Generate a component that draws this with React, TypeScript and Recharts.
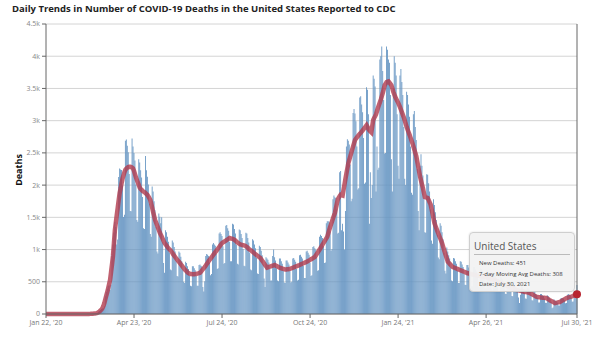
import React from "react";
import {
  ComposedChart,
  Bar,
  Line,
  XAxis,
  YAxis,
  CartesianGrid,
  ReferenceDot,
  ReferenceLine,
} from "recharts";

// Day index 0 = Jan 22, 2020 ... 555 = Jul 30, 2021
const dailyDeaths: number[] = [
  0, 0, 0, 0, 0, 0, 0,
  0, 0, 0, 0, 0, 0, 0,
  0, 0, 0, 0, 0, 0, 0,
  0, 0, 0, 0, 0, 0, 0,
  0, 0, 0, 0, 0, 0, 0,
  0, 0, 0, 1, 0, 0, 1,
  1, 1, 2, 1, 2, 3, 5,
  6, 7, 9, 10, 12, 18, 36,
  48, 63, 77, 86, 88, 120, 276,
  342, 391, 440, 442, 371, 455, 924,
  1080, 1265, 1430, 1349, 1078, 1155, 2124,
  2256, 2243, 2233, 1995, 1505, 1540, 2688,
  2706, 2610, 2508, 2171, 1600, 1596, 2724,
  2600, 2500, 2380, 2010, 1460, 1430, 2400,
  2350, 2230, 2120, 1815, 1330, 1320, 2450,
  2230, 2130, 2010, 1710, 1240, 1200, 1980,
  1900, 1750, 1610, 1350, 970, 940, 1560,
  1510, 1410, 1500, 1110, 790, 640, 1300,
  1270, 1200, 1120, 950, 690, 680, 1140,
  1110, 1040, 970, 820, 590, 580, 970,
  950, 890, 820, 690, 500, 480, 810,
  790, 740, 700, 590, 440, 430, 740,
  740, 710, 680, 590, 440, 440, 760,
  770, 750, 740, 420, 350, 510, 900,
  930, 920, 900, 800, 600, 620, 1080,
  1100, 1080, 1060, 930, 700, 710, 1250,
  1270, 1240, 1210, 1050, 780, 790, 1370,
  1380, 1330, 1290, 1120, 820, 820, 1400,
  1390, 1320, 1250, 1070, 780, 770, 1310,
  1300, 1240, 1180, 1010, 750, 740, 1260,
  1250, 1180, 1110, 950, 690, 680, 1160,
  1140, 1080, 1020, 870, 630, 620, 1060,
  1040, 980, 910, 770, 550, 420, 880,
  860, 840, 800, 700, 520, 520, 900,
  1000, 880, 830, 710, 520, 510, 860,
  860, 820, 780, 670, 490, 480, 830,
  830, 800, 770, 670, 490, 500, 860,
  870, 840, 810, 700, 520, 530, 910,
  920, 890, 860, 750, 560, 560, 970,
  980, 950, 920, 800, 590, 600, 1040,
  1050, 1020, 1000, 880, 670, 680, 1200,
  1230, 1210, 1180, 1050, 790, 800, 1410,
  1440, 1440, 1430, 1280, 980, 1010, 1780,
  1840, 1810, 1800, 1620, 1250, 1260, 2200,
  2220, 1300, 1400, 1280, 1000, 1600, 2600,
  2710, 2690, 2630, 2320, 1750, 1790, 3120,
  3180, 3110, 2990, 2600, 1930, 1950, 3360,
  3380, 3250, 3130, 2730, 2020, 2040, 3520,
  3480, 3100, 1400, 2200, 1800, 2000, 3700,
  3650, 3530, 1900, 2600, 2240, 2270, 3950,
  4000, 4150, 3770, 3320, 2490, 2500, 4150,
  4100, 3950, 3900, 3400, 2400, 1900, 3500,
  4000, 3900, 3700, 3100, 2300, 2100, 3700,
  3800, 3600, 3400, 2900, 2100, 2000, 3450,
  3400, 3250, 3060, 2600, 1880, 1850, 3100,
  3150, 2900, 2700, 2250, 1600, 1300, 2300,
  2480, 2300, 2150, 1790, 1270, 1260, 2170,
  2160, 2030, 1900, 1620, 1140, 1090, 1780,
  1690, 1580, 1460, 1230, 875, 850, 1410,
  1370, 1270, 1160, 950, 670, 630, 1030,
  970, 910, 860, 720, 520, 510, 870,
  860, 820, 780, 670, 480, 480, 820,
  810, 770, 730, 620, 455, 450, 760,
  760, 720, 690, 590, 430, 430, 730,
  730, 690, 660, 570, 420, 410, 710,
  700, 670, 640, 550, 400, 400, 680,
  670, 640, 600, 520, 380, 370, 640,
  630, 600, 560, 480, 350, 340, 580,
  570, 540, 510, 430, 315, 310, 520,
  510, 490, 460, 390, 280, 275, 460,
  460, 430, 410, 350, 255, 170, 300,
  470, 420, 380, 330, 240, 235, 400,
  400, 380, 350, 300, 215, 210, 350,
  340, 310, 290, 250, 180, 180, 310,
  310, 290, 280, 240, 175, 170, 290,
  280, 250, 230, 190, 90, 100, 230,
  210, 200, 195, 170, 130, 130, 240,
  250, 245, 240, 215, 165, 170, 300,
  310, 300, 290, 255, 190, 195, 350,
  360, 350, 451,
];

const avgDeaths: number[] = [
  0, 0, 0, 0, 0, 0, 0,
  0, 0, 0, 0, 0, 0, 0,
  0, 0, 0, 0, 0, 0, 0,
  0, 0, 0, 0, 0, 0, 0,
  0, 0, 0, 0, 0, 0, 0,
  0, 0, 0, 0, 0, 0, 0,
  1, 1, 1, 1, 2, 3, 4,
  5, 6, 8, 10, 14, 20, 30,
  40, 55, 70, 90, 125, 170, 230,
  285, 340, 400, 465, 530, 650, 770,
  900, 1100, 1300, 1420, 1540, 1650, 1770,
  1880, 1950, 2030, 2100, 2150, 2200, 2240,
  2255, 2270, 2280, 2285, 2285, 2280, 2270,
  2260, 2220, 2170, 2120, 2080, 2040, 2000,
  1960, 1940, 1925, 1910, 1900, 1890, 1875,
  1860, 1850, 1825, 1800, 1770, 1710, 1650,
  1580, 1520, 1460, 1420, 1380, 1340, 1300,
  1260, 1230, 1200, 1165, 1130, 1100, 1080,
  1060, 1040, 1020, 1005, 990, 970, 950,
  925, 905, 885, 865, 845, 825, 810,
  790, 770, 750, 730, 710, 690, 675,
  660, 645, 635, 625, 622, 620, 618,
  617, 618, 620, 622, 626, 630, 635,
  640, 655, 675, 695, 712, 730, 752,
  775, 797, 820, 840, 860, 880, 900,
  920, 940, 960, 980, 1000, 1020, 1040,
  1060, 1080, 1100, 1110, 1120, 1130, 1140,
  1150, 1160, 1170, 1180, 1175, 1170, 1165,
  1160, 1150, 1140, 1125, 1110, 1100, 1090,
  1080, 1075, 1070, 1068, 1065, 1060, 1050,
  1040, 1025, 1010, 1000, 990, 978, 965,
  952, 940, 928, 916, 904, 892, 880,
  870, 850, 828, 806, 784, 762, 740,
  720, 725, 730, 735, 740, 745, 750,
  755, 760, 752, 744, 736, 728, 720,
  715, 710, 705, 700, 695, 690, 692,
  694, 696, 698, 700, 706, 712, 718,
  724, 730, 736, 742, 748, 754, 760,
  767, 774, 781, 788, 795, 800, 808,
  816, 824, 832, 840, 849, 858, 867,
  876, 885, 908, 931, 954, 977, 1000,
  1025, 1050, 1075, 1100, 1125, 1150, 1175,
  1200, 1250, 1300, 1350, 1395, 1440, 1485,
  1530, 1570, 1640, 1710, 1780, 1805, 1830,
  1850, 1845, 1840, 1925, 2010, 2100, 2180,
  2260, 2340, 2392, 2444, 2496, 2550, 2600,
  2650, 2700, 2720, 2740, 2760, 2780, 2797,
  2813, 2830, 2850, 2870, 2890, 2910, 2930,
  2903, 2877, 2850, 2835, 2820, 2915, 3010,
  3040, 3070, 3100, 3150, 3200, 3243, 3287,
  3330, 3380, 3430, 3490, 3550, 3575, 3600,
  3605, 3610, 3590, 3570, 3550, 3500, 3450,
  3410, 3370, 3340, 3310, 3280, 3245, 3210,
  3170, 3130, 3090, 3050, 3000, 2950, 2900,
  2860, 2820, 2780, 2737, 2693, 2650, 2600,
  2550, 2500, 2450, 2370, 2290, 2210, 2130,
  2070, 2010, 1950, 1880, 1815, 1810, 1805,
  1800, 1767, 1733, 1700, 1630, 1560, 1485,
  1410, 1370, 1330, 1290, 1250, 1212, 1175,
  1138, 1100, 1050, 1000, 950, 903, 857,
  810, 794, 778, 762, 746, 730, 724,
  718, 712, 706, 700, 693, 686, 680,
  674, 668, 662, 656, 650, 643, 636,
  632, 628, 625, 621, 617, 614, 610,
  607, 603, 600, 597, 594, 591, 588,
  585, 582, 579, 576, 573, 570, 565,
  560, 555, 550, 545, 540, 535, 530,
  525, 520, 513, 506, 499, 492, 485,
  478, 471, 464, 457, 450, 443, 436,
  429, 422, 415, 408, 401, 394, 387,
  380, 377, 373, 370, 366, 363, 359,
  356, 352, 349, 345, 342, 339, 336,
  333, 330, 322, 314, 306, 298, 289,
  281, 273, 265, 263, 261, 259, 257,
  255, 254, 252, 251, 249, 248, 238,
  229, 219, 210, 200, 193, 185, 178,
  170, 173, 176, 180, 183, 186, 195,
  203, 212, 220, 229, 239, 248, 252,
  257, 261, 266, 270, 276, 283, 289,
  295, 302, 308,
];

const xTickDays: number[] = [0, 92, 184, 276, 368, 460, 555];
const xTickLabels: string[] = [
  "Jan 22, '20",
  "Apr 23, '20",
  "Jul 24, '20",
  "Oct 24, '20",
  "Jan 24, '21",
  "Apr 26, '21",
  "Jul 30, '21",
];
const yTicks: number[] = [0, 500, 1000, 1500, 2000, 2500, 3000, 3500, 4000, 4500];

const tooltipTitle = "United States";
const tooltipLines: string[] = [
  "New Deaths: 451",
  "7-day Moving Avg Deaths: 308",
  "Date: July 30, 2021",
];

const chartTitle =
  "Daily Trends in Number of COVID-19 Deaths in the United States Reported to CDC";

const rows = dailyDeaths.map((v, i) => ({ day: i, deaths: v, avg: avgDeaths[i] }));
const lastIdx = rows.length - 1;

const fmtY = (v: number) => (v === 0 ? "0" : v >= 1000 ? `${v / 1000}k` : `${v}`);
const fmtX = (v: number) => {
  const k = xTickDays.indexOf(v);
  return k >= 0 ? xTickLabels[k] : "";
};

export default function App() {
  return (
    <div
      style={{
        position: "absolute",
        left: 0,
        top: 0,
        width: 600,
        height: 338,
        background: "#fff",
        fontFamily: "'Open Sans', sans-serif",
      }}
    >
      <div
        style={{
          position: "absolute",
          left: 12,
          top: 2,
          fontSize: 9.5,
          fontWeight: 700,
          color: "#222",
          whiteSpace: "nowrap",
        }}
      >
        {chartTitle}
      </div>
      <div
        style={{
          position: "absolute",
          left: 18,
          top: 170,
          transform: "translate(-50%, -50%) rotate(-90deg)",
          fontSize: 9,
          fontWeight: 700,
          color: "#111",
          whiteSpace: "nowrap",
        }}
      >
        Deaths
      </div>
      <ComposedChart
        width={600}
        height={338}
        data={rows}
        margin={{ top: 24, right: 23, bottom: 0, left: 0 }}
        barSize={1}
      >
        <CartesianGrid vertical={false} stroke="#d4d4d4" strokeWidth={1} />
        <XAxis
          dataKey="day"
          type="number"
          domain={[0, lastIdx]}
          ticks={xTickDays}
          tickFormatter={fmtX}
          interval={0}
          height={24}
          tickSize={4}
          axisLine={{ stroke: "#666" }}
          tickLine={{ stroke: "#666" }}
          tick={{ fontSize: 7, fill: "#777" }}
        />
        <YAxis
          domain={[0, 4500]}
          ticks={yTicks}
          tickFormatter={fmtY}
          width={46}
          tickSize={4}
          axisLine={{ stroke: "#666" }}
          tickLine={{ stroke: "#666" }}
          tick={{ fontSize: 7, fill: "#888" }}
        />
        <Bar dataKey="deaths" fill="#6494c2" isAnimationActive={false} />
        <Line
          type="linear"
          dataKey="avg"
          stroke="#b03a4c"
          strokeOpacity={0.8}
          strokeWidth={4.5}
          dot={false}
          isAnimationActive={false}
        />
        <ReferenceLine x={lastIdx} stroke="#666" />
        <ReferenceDot x={lastIdx} y={avgDeaths[lastIdx]} r={4} fill="#b8232f" stroke="none" />
      </ComposedChart>
      <div
        style={{
          position: "absolute",
          left: 469,
          top: 232,
          width: 104,
          height: 58,
          background: "rgba(242,242,242,0.96)",
          border: "1px solid #cfcfcf",
          borderRadius: 4,
          boxShadow: "0 0 2px rgba(0,0,0,0.15)",
        }}
      >
        <div
          style={{
            position: "absolute",
            left: 4,
            top: 6,
            fontSize: 10,
            color: "#555",
            whiteSpace: "nowrap",
          }}
        >
          {tooltipTitle}
        </div>
        <div
          style={{
            position: "absolute",
            left: 4,
            right: 4,
            top: 21,
            borderTop: "1px solid #bbb",
          }}
        />
        {tooltipLines.map((t, k) => (
          <div
            key={t}
            style={{
              position: "absolute",
              left: 9,
              top: 26 + k * 10.5,
              fontSize: 6,
              color: "#333",
              whiteSpace: "nowrap",
            }}
          >
            {t}
          </div>
        ))}
      </div>
    </div>
  );
}
